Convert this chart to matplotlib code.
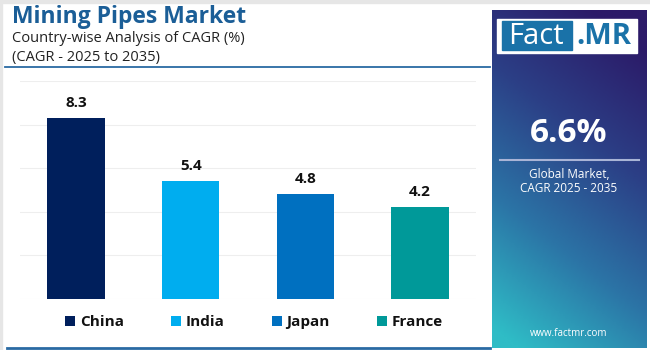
import numpy as np
import matplotlib
matplotlib.use("Agg")
import matplotlib.pyplot as plt
from matplotlib.patches import Rectangle
from matplotlib.colors import LinearSegmentedColormap

plt.rcParams['font.family'] = ['Open Sans', 'DejaVu Sans']

countries = ['China', 'India', 'Japan', 'France']
cagr = [8.3, 5.4, 4.8, 4.2]
bar_colors = ['#001f5c', '#00adef', '#0070c0', '#009999']
global_cagr = '6.6%'

W, H = 650, 350
fig = plt.figure(figsize=(6.5, 3.5), dpi=100)
fig.patch.set_facecolor('white')


def px(x, y, w, h):
    # pixel box (from top-left) -> figure fraction
    return [x / W, 1 - (y + h) / H, w / W, h / H]


# light frame at top/left
fig.patches.append(Rectangle((0, 1 - 2.5 / H), 1, 2.5 / H, transform=fig.transFigure,
                             color='#e6e6e6', zorder=0))
fig.patches.append(Rectangle((0, 0), 2 / W, 1, transform=fig.transFigure,
                             color='#e6e6e6', zorder=0))

# title block
fig.text(12 / W, 1 - 17 / H, 'Mining Pipes Market', fontsize=16.5, fontweight='bold',
         color='#1b5e97', va='center', ha='left')
fig.text(12 / W, 1 - 38 / H, 'Country-wise Analysis of CAGR (%)', fontsize=10.5,
         color='#222222', va='center', ha='left')
fig.text(12 / W, 1 - 57 / H, '(CAGR - 2025 to 2035)', fontsize=10.5,
         color='#222222', va='center', ha='left')
fig.add_artist(plt.Line2D([5 / W, 490 / W], [1 - 67 / H, 1 - 67 / H],
                          transform=fig.transFigure, color='#2a6aa3', lw=1.3))
fig.add_artist(plt.Line2D([7 / W, 490 / W], [1 - 348 / H, 1 - 348 / H],
                          transform=fig.transFigure, color='#2a6aa3', lw=2))

# bar chart
ax = fig.add_axes(px(20, 81, 456, 218))
x = np.arange(len(countries))
bars = ax.bar(x, cagr, width=0.5, color=bar_colors, zorder=3)
ax.set_xlim(-0.49, 3.49)
ax.set_ylim(0, 10)
ax.set_yticks(np.arange(0, 11, 2))
ax.grid(axis='y', color='#eeeeee', lw=0.8, zorder=0)
ax.tick_params(left=False, bottom=False, labelleft=False, labelbottom=False)
for s in ax.spines.values():
    s.set_visible(False)
for xi, v in zip(x, cagr):
    ax.annotate(f'{v}', (xi, v), xytext=(0, 6), textcoords='offset points',
                ha='center', va='bottom', fontsize=11, fontweight='bold', color='#111111')

leg = ax.legend(bars, countries, ncol=4, loc='center', frameon=False,
                bbox_to_anchor=((254 - 20) / 456, (299 - 322) / 218),
                handlelength=0.65, handleheight=0.65, handletextpad=0.3,
                columnspacing=3.1, prop={'size': 11, 'weight': 'bold'})
for t in leg.get_texts():
    t.set_color('#111111')

# gradient side panel
pax = fig.add_axes(px(492, 10, 155, 338))
gy, gx = np.mgrid[0:1:200j, 0:1:100j]
t = np.clip(0.85 * gy + 0.3 * (1 - gx) - 0.1, 0, 1)
cmap = LinearSegmentedColormap.from_list('panel', ['#2c1a68', '#2b3f86', '#2b74a6', '#2fbcc6'])
pax.imshow(t, cmap=cmap, aspect='auto', extent=[0, 1, 1, 0], vmin=0, vmax=1)
pax.set_xlim(0, 1)
pax.set_ylim(1, 0)
pax.axis('off')

# logo
fig.patches.append(Rectangle((497 / W, 1 - 53 / H), 140 / W, 34 / H,
                             transform=fig.transFigure, color='white', zorder=5))
fig.patches.append(Rectangle((502 / W, 1 - 50 / H), 70 / W, 29 / H,
                             transform=fig.transFigure, color='#1a72a8', zorder=6))
fig.text(536 / W, 1 - 36 / H, 'Fact', fontsize=21, color='white', ha='center',
         va='center', zorder=7)
fig.text(604 / W, 1 - 36 / H, '.MR', fontsize=21, color='#1a72a8', fontweight='bold',
         ha='center', va='center', zorder=7)

fig.text(569 / W, 1 - 133 / H, global_cagr, fontsize=24, fontweight='bold',
         color='white', ha='center', va='center')
fig.add_artist(plt.Line2D([500 / W, 639 / W], [1 - 160 / H, 1 - 160 / H],
                          transform=fig.transFigure, color='#a9b4d6', lw=1.5))
fig.text(569 / W, 1 - 174 / H, 'Global Market,', fontsize=8.5, color='white',
         ha='center', va='center')
fig.text(569 / W, 1 - 189 / H, 'CAGR 2025 - 2035', fontsize=8.5, color='white',
         ha='center', va='center')
fig.text(569 / W, 1 - 333 / H, 'www.factmr.com', fontsize=7, color='white',
         ha='center', va='center')

fig.savefig('out.png', dpi=100)
